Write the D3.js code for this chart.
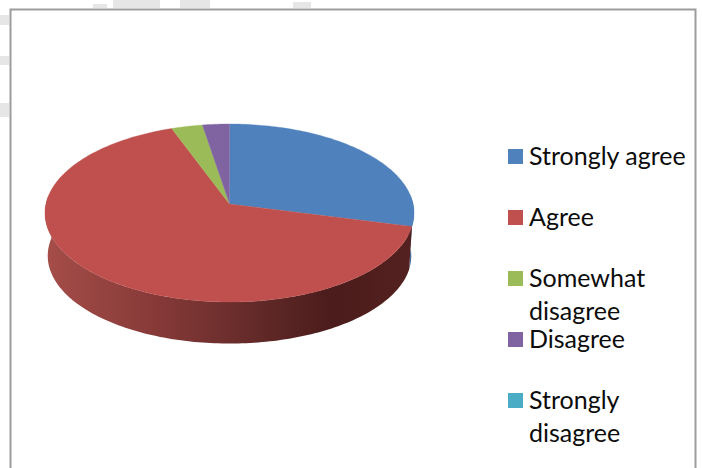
<!DOCTYPE html>
<html>
<head>
<meta charset="utf-8">
<script src="https://cdn.jsdelivr.net/npm/d3@7"></script>
<style>
    html, body { margin: 0; padding: 0; background: #fff; overflow: hidden; }
    svg { display: block; }
    .legendText { font-family: Lato, "Open Sans", sans-serif; font-size: 25px; fill: #0c0c0c; }
</style>
</head>
<body>
<div id="svgWrapper"></div>
<script>
const categories = ['Strongly agree', 'Agree', 'Somewhat disagree', 'Disagree', 'Strongly disagree'];
const values = [29, 65.4, 3, 2.6, 0];
const colors = ['#4f81bd', '#c0504d', '#9bbb59', '#8064a2', '#4bacc6'];
const legendLines = [['Strongly agree'], ['Agree'], ['Somewhat', 'disagree'], ['Disagree'], ['Strongly', 'disagree']];

// grey scan marks around the outside of the frame: x, y, width, height
const smudges = [
    [93, 4, 14, 4], [113, 0, 47, 8], [180, 0, 30, 8], [293, 2, 18, 6],
    [0, 15, 9, 10], [0, 56, 9, 9], [0, 103, 9, 14]
];

const w = 702;
const h = 468;

// pie geometry, the disc is seen in perspective so the apex sits above the ellipse centre
const apexX = 229.5;
const apexY = 204;
const radiusX = 183.6;
const radiusY = 88.1;
const persp = -0.101;
const depth = 43;
const bottomScale = 0.985;

const svg = d3.select('#svgWrapper')
    .append('svg')
    .attr('width', w)
    .attr('height', h)
    .attr('viewBox', '0 0 ' + w + ' ' + h);

const defs = svg.append('defs');

const pie = d3.pie().sort(null)(values);

// angle is clockwise from the top, level 0 is the top face and 1 the bottom face
function project(angle, level) {
    const u = Math.sin(angle);
    const v = -Math.cos(angle);
    const k = 1 + persp * v;
    const s = 1 + (bottomScale - 1) * level;
    return [apexX + s * radiusX * u / k, apexY + depth * level + s * radiusY * v / k];
}

function arcPoints(a0, a1, level) {
    const n = Math.max(2, Math.ceil((a1 - a0) / 0.02));
    return d3.range(n + 1).map((i) => project(a0 + (a1 - a0) * i / n, level));
}

const line = d3.line();

// Side wall gradients
function wallGradient(id, stops) {
    const g = defs.append('linearGradient')
        .attr('id', id)
        .attr('gradientUnits', 'userSpaceOnUse')
        .attr('x1', 45).attr('x2', 414)
        .attr('y1', 0).attr('y2', 0);
    g.selectAll('stop')
        .data(stops)
        .enter()
        .append('stop')
        .attr('offset', (d) => d[0])
        .attr('stop-color', (d) => d[1]);
}
wallGradient('wallRed', [[0, '#a54d49'], [0.3, '#863a38'], [0.6, '#5f2827'], [0.78, '#4a1c1b'], [1, '#542120']]);

svg.selectAll('.smudge')
    .data(smudges)
    .enter()
    .append('rect')
    .attr('class', 'smudge')
    .attr('x', (d) => d[0])
    .attr('y', (d) => d[1])
    .attr('width', (d) => d[2])
    .attr('height', (d) => d[3])
    .attr('fill', '#e6e6e6');

// Only the front half of the disc shows its wall
const front = pie.map((d, i) => {
    const a0 = Math.max(d.startAngle, Math.PI / 2 - 0.1);
    const a1 = Math.min(d.endAngle, Math.PI * 1.5 + 0.1);
    return { i: i, a0: a0, a1: a1 };
}).filter((d) => d.a1 > d.a0);

svg.selectAll('.wall')
    .data(front)
    .enter()
    .append('path')
    .attr('class', 'wall')
    .attr('fill', (d) => d.i === 0 ? '#44699a' : 'url(#wallRed)')
    .attr('d', (d) => line(arcPoints(d.a0, d.a1, 0).concat(arcPoints(d.a0, d.a1, 1).reverse())) + 'Z');

// Top face
svg.selectAll('.slice')
    .data(pie.filter((d) => d.value > 0))
    .enter()
    .append('path')
    .attr('class', 'slice')
    .attr('fill', (d) => colors[d.index])
    .attr('stroke', (d) => colors[d.index])
    .attr('stroke-width', 0.3)
    .attr('d', (d) => line([[apexX, apexY]].concat(arcPoints(d.startAngle, d.endAngle, 0))) + 'Z');

// Legend
const legendY = d3.scalePoint()
    .domain(categories)
    .range([149, 393]);

const legend = svg.selectAll('.legendItem')
    .data(categories)
    .enter()
    .append('g')
    .attr('class', 'legendItem')
    .attr('transform', (d) => 'translate(508, ' + legendY(d) + ')');

legend.append('rect')
    .attr('width', 15)
    .attr('height', 15)
    .attr('fill', (d, i) => colors[i]);

legend.each(function (d, i) {
    d3.select(this).selectAll('text')
        .data(legendLines[i])
        .enter()
        .append('text')
        .attr('class', 'legendText')
        .attr('x', 21)
        .attr('y', (t, j) => 16 + j * 33)
        .text((t) => t);
});

// Chart frame, the bottom edge is cropped off
svg.append('path')
    .attr('d', 'M10.5 468V9.5H695.5V468')
    .attr('fill', 'none')
    .attr('stroke', '#9c9c9c')
    .attr('stroke-width', 2);
</script>
</body>
</html>
